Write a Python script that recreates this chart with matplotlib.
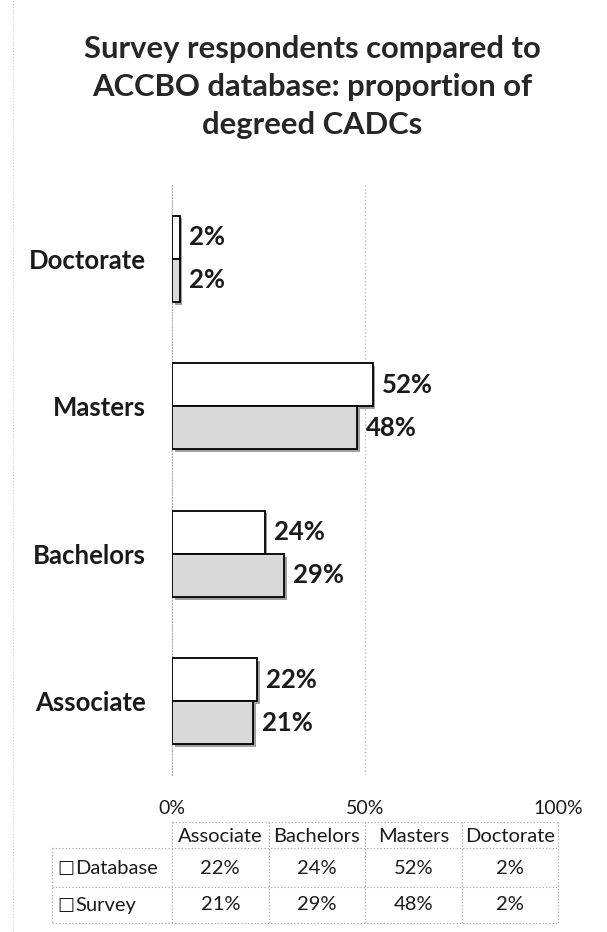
import matplotlib
matplotlib.use("Agg")
import matplotlib.pyplot as plt
import matplotlib.patheffects as pe
from matplotlib.transforms import blended_transform_factory

categories = ["Associate", "Bachelors", "Masters", "Doctorate"]
database = [22, 24, 52, 2]
survey = [21, 29, 48, 2]
series_names = ["Database", "Survey"]
xticks = [0, 50, 100]
xtick_labels = ["0%", "50%", "100%"]
title = "Survey respondents compared to\nACCBO database: proportion of\ndegreed CADCs"

W, H = 607, 932
fam = ["Lato", "DejaVu Sans"]
ink = "#1a1a1a"


def fy(py):
    return 1 - py / H


fig = plt.figure(figsize=(W / 100, H / 100), dpi=100)
ax = fig.add_axes([172 / W, fy(775), 386 / W, (775 - 185) / H])

h = 0.293
ys = list(range(len(categories)))
shadow = [pe.SimplePatchShadow(offset=(2, -2), shadow_rgbFace="#777777", alpha=0.7), pe.Normal()]
b1 = ax.barh([y + h / 2 for y in ys], database, height=h, color="white",
             edgecolor="black", linewidth=1.3, path_effects=shadow, zorder=3)
b2 = ax.barh([y - h / 2 for y in ys], survey, height=h, color="#d9d9d9",
             edgecolor="black", linewidth=1.3, path_effects=shadow, zorder=3)

for bars, vals in ((b1, database), (b2, survey)):
    for bar, v in zip(bars, vals):
        ax.annotate(f"{v}%", (bar.get_width(), bar.get_y() + bar.get_height() / 2),
                    xytext=(6.5, 0), textcoords="offset points", ha="left", va="center",
                    fontsize=18.5, fontweight="bold", family=fam, color=ink)

ax.set_xlim(0, 100)
ax.set_ylim(-0.5, len(categories) - 0.5)
ax.set_yticks(ys)
ax.set_yticklabels(categories, fontsize=18.5, fontweight="bold", family=fam, color=ink)
ax.set_xticks(xticks)
ax.set_xticklabels(xtick_labels, fontsize=14, family=fam, color=ink)
ax.tick_params(axis="both", length=0)
ax.tick_params(axis="x", pad=18)
ax.tick_params(axis="y", pad=19)
for s in ("top", "right", "bottom"):
    ax.spines[s].set_visible(False)
ax.spines["left"].set_linestyle(":")
ax.spines["left"].set_color("#aaaaaa")
ax.axvline(50, color="#bbbbbb", linestyle=":", linewidth=1, zorder=0)

fig.text(312 / W, fy(87), title, ha="center", va="center", fontsize=22.3,
         fontweight="bold", family=fam, color="#262626", linespacing=1.43)

# data table under the plot, columns follow the x axis quarters
tr = blended_transform_factory(ax.transData, fig.transFigure)
grid = dict(color="#aaaaaa", linestyle=":", linewidth=0.9, clip_on=False)
ncol = len(categories)
edges = [100 * j / ncol for j in range(ncol + 1)]
fig.lines.append(plt.Line2D([edges[0], edges[-1]], [fy(822), fy(822)], transform=tr, **grid))
for py in (848, 887, 923):
    fig.lines.append(plt.Line2D([52 / W, 558 / W], [fy(py), fy(py)], transform=fig.transFigure, **grid))
fig.lines.append(plt.Line2D([52 / W, 52 / W], [fy(848), fy(923)], transform=fig.transFigure, **grid))
for e in edges:
    fig.lines.append(plt.Line2D([e, e], [fy(822), fy(923)], transform=tr, **grid))

row_y = [868, 905]
for j, cat in enumerate(categories):
    xc = (edges[j] + edges[j + 1]) / 2
    fig.text(xc, fy(836), cat, transform=tr, ha="center", va="center",
             fontsize=14.5, family=fam, color=ink)
    for vals, py in zip((database, survey), row_y):
        fig.text(xc, fy(py), f"{vals[j]}%", transform=tr, ha="center", va="center",
                 fontsize=14.5, family=fam, color=ink)
for name, py in zip(series_names, row_y):
    fig.text(57 / W, fy(py), "\u25a1", ha="left", va="center",
             fontsize=13, family="DejaVu Sans", color=ink)
    fig.text(75 / W, fy(py), name, ha="left", va="center",
             fontsize=14.5, family=fam, color=ink)

# faint chart-area border on the left
fig.lines.append(plt.Line2D([13 / W, 13 / W], [0, 1], transform=fig.transFigure,
                            color="#cccccc", linestyle=":", linewidth=0.8))

fig.savefig("out.png", dpi=100)
